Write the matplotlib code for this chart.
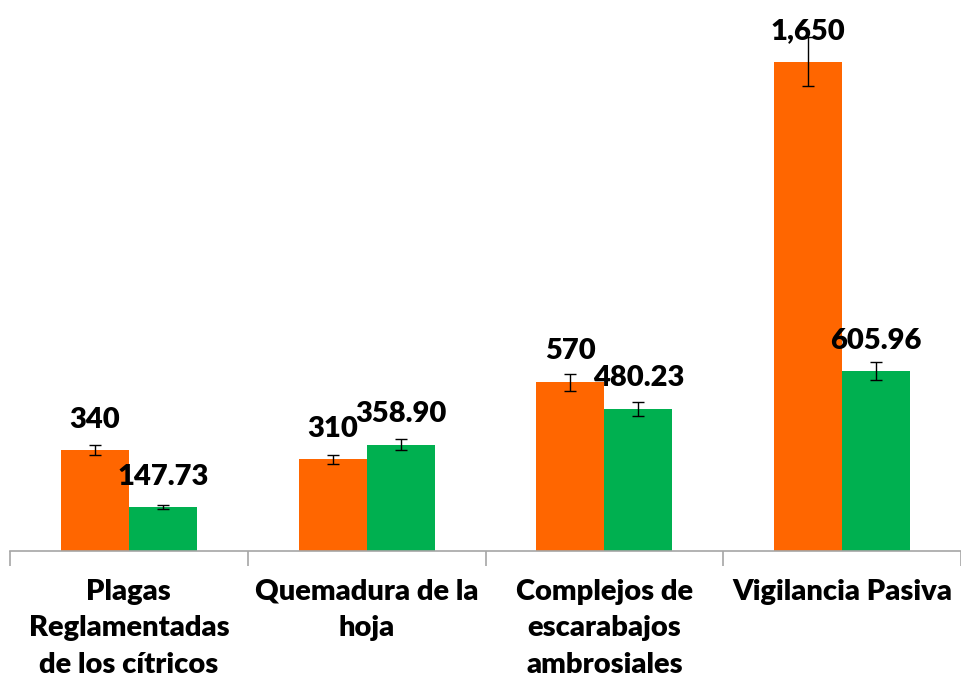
import numpy as np
import matplotlib.pyplot as plt
from matplotlib.ticker import FixedLocator

# data
categories = ["Plagas\nReglamentadas\nde los cítricos", "Quemadura de la\nhoja",
              "Complejos de\nescarabajos\nambrosiales", "Vigilancia Pasiva"]
orange_vals = [340, 310, 570, 1650]
green_vals = [147.73, 358.90, 480.23, 605.96]
orange_err = [17, 15.5, 28.5, 82.5]
green_err = [7.4, 17.9, 24.0, 30.3]

ORANGE = "#FF6600"
GREEN = "#00B050"

plt.rcParams['font.family'] = ['Lato', 'DejaVu Sans']

fig = plt.figure(figsize=(9.61, 6.84), dpi=100)
ax = fig.add_axes([10 / 961, 133 / 684, 951 / 961, 551 / 684])

x = np.arange(len(categories))
w = 0.286

ax.bar(x - w / 2, orange_vals, w, color=ORANGE, yerr=orange_err,
       error_kw=dict(ecolor='black', elinewidth=1, capsize=4, capthick=1))
ax.bar(x + w / 2, green_vals, w, color=GREEN, yerr=green_err,
       error_kw=dict(ecolor='black', elinewidth=1, capsize=4, capthick=1))

# value labels, 31px above the bar top like the original
for xi, v in zip(x - w / 2, orange_vals):
    ax.annotate(f"{v:,.0f}", (xi, v), xytext=(0, 22), textcoords='offset points',
                ha='center', va='center', fontsize=21, fontweight='heavy')
for xi, v in zip(x + w / 2, green_vals):
    ax.annotate(f"{v:,.2f}", (xi, v), xytext=(0, 22), textcoords='offset points',
                ha='center', va='center', fontsize=21, fontweight='heavy')

ax.set_xlim(-0.5, 3.5)
ax.set_ylim(0, 1859)

for s in ['top', 'right', 'left']:
    ax.spines[s].set_visible(False)
ax.spines['bottom'].set_color('#A6A6A6')
ax.spines['bottom'].set_linewidth(1.2)
ax.set_yticks([])

ax.set_xticks(x)
ax.set_xticklabels(categories, fontsize=21, fontweight='heavy', linespacing=1.5)
ax.tick_params(axis='x', which='major', length=0, pad=20)
ax.xaxis.set_minor_locator(FixedLocator([-0.5, 0.5, 1.5, 2.5, 3.5]))
ax.tick_params(axis='x', which='minor', length=11, color='#A6A6A6', width=1.2)

fig.savefig("out.png", dpi=100)
